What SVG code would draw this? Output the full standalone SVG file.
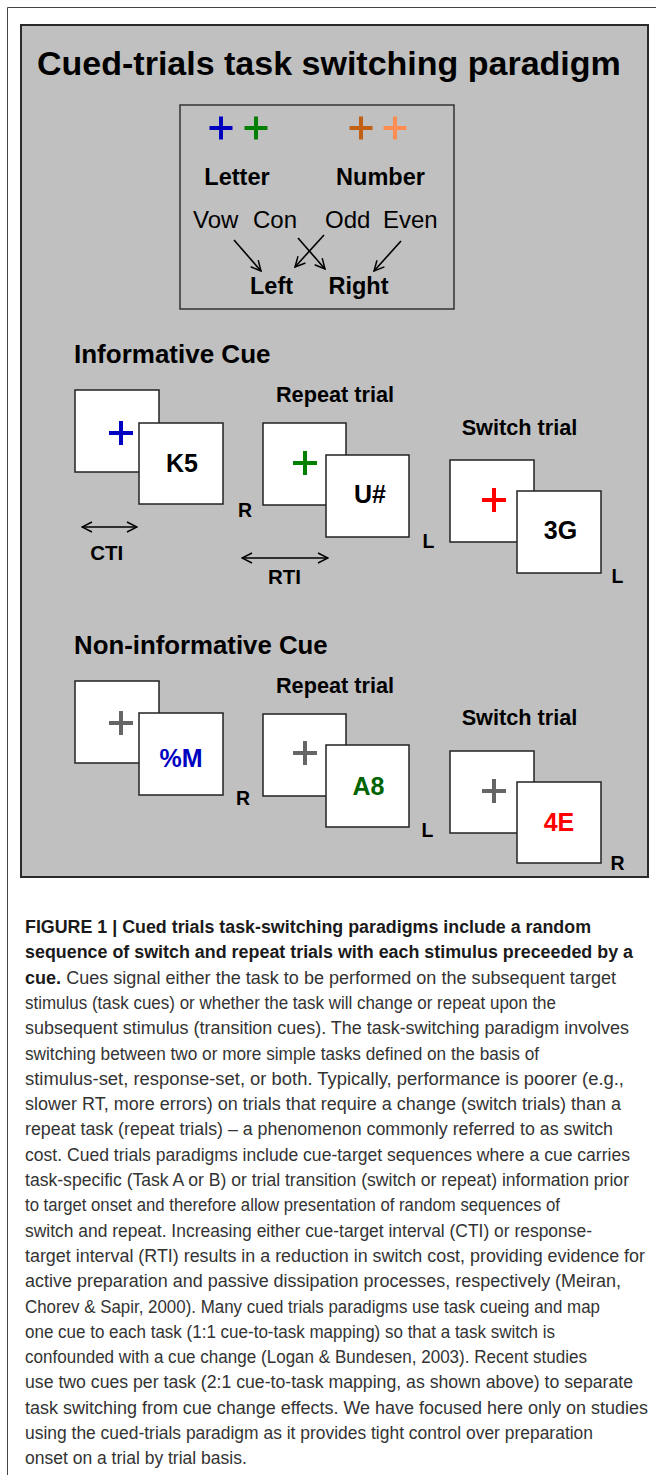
<svg xmlns="http://www.w3.org/2000/svg" width="656" height="1475" viewBox="0 0 656 1475">
<defs>
<style>
.b{font-family:"Liberation Sans",Arial,sans-serif;font-weight:bold;fill:#000}
.r{font-family:"Liberation Sans",Arial,sans-serif;fill:#000}
.box{fill:#fff;stroke:#222;stroke-width:1.5}
.cap{font-family:"Liberation Sans",Arial,sans-serif;font-size:17.5px;fill:#333}
.capb{font-weight:bold;fill:#1a1a1a}
.arr{stroke:#000;stroke-width:1.6;fill:none}
.pl{stroke-width:4;fill:none}
</style>
<marker id="v" viewBox="0 0 12 12" refX="11" refY="6" markerWidth="12" markerHeight="12" markerUnits="userSpaceOnUse" orient="auto-start-reverse">
<path d="M1,1 L11,6 L1,11" fill="none" stroke="#000" stroke-width="1.5"/>
</marker>
</defs>
<rect width="656" height="1475" fill="#fff"/>
<path d="M7.5,1475 V7.5 H656" fill="none" stroke="#444" stroke-width="1"/>
<g id="panel">
<rect x="21" y="25" width="627" height="852" fill="#c0c0c0" stroke="#2a2a2a" stroke-width="2"/>
<text class="b" x="37" y="75" font-size="34">Cued-trials task switching paradigm</text>
</g>
<g id="legend">
<rect x="180" y="105" width="274" height="204" fill="none" stroke="#333" stroke-width="1.5"/>
<path class="pl" stroke="#0000c0" d="M209.5,128 H232.5 M221,116.5 V139.5"/>
<path class="pl" stroke="#008000" d="M244.5,128 H267.5 M256,116.5 V139.5"/>
<path class="pl" stroke="#c06010" d="M349.5,128 H372.5 M361,116.5 V139.5"/>
<path class="pl" stroke="#ff8c50" d="M383.5,128 H406.5 M395,116.5 V139.5"/>
<text class="b" x="237" y="185" font-size="23.5" text-anchor="middle">Letter</text>
<text class="b" x="380.5" y="185" font-size="23.5" text-anchor="middle">Number</text>
<text class="r" x="193" y="228" font-size="24">Vow</text>
<text class="r" x="253" y="228" font-size="24">Con</text>
<text class="r" x="325" y="228" font-size="24">Odd</text>
<text class="r" x="383" y="228" font-size="24">Even</text>
<text class="b" x="271.5" y="294" font-size="23.5" text-anchor="middle">Left</text>
<text class="b" x="358.5" y="294" font-size="23.5" text-anchor="middle">Right</text>
</g>
<g id="connectors">
<line class="arr" x1="234" y1="240" x2="261" y2="271" marker-end="url(#v)"/>
<line class="arr" x1="298" y1="238" x2="325" y2="269" marker-end="url(#v)"/>
<line class="arr" x1="324" y1="235" x2="295" y2="267" marker-end="url(#v)"/>
<line class="arr" x1="401" y1="241" x2="374" y2="271" marker-end="url(#v)"/>
<line class="arr" x1="82" y1="527" x2="137" y2="527" marker-start="url(#v)" marker-end="url(#v)"/>
<line class="arr" x1="242" y1="558" x2="328" y2="558" marker-start="url(#v)" marker-end="url(#v)"/>
</g>
<g id="informative">
<text class="b" x="74" y="363" font-size="26">Informative Cue</text>
<text class="b" x="335" y="402" font-size="21.7" text-anchor="middle">Repeat trial</text>
<text class="b" x="519.5" y="435" font-size="21.7" text-anchor="middle">Switch trial</text>
<g id="inf-cue1"><rect class="box" x="75" y="390" width="84" height="82"/><path class="pl" stroke="#0000c0" d="M109,433 H133 M121,421 V445"/></g>
<g id="inf-target1"><rect class="box" x="139" y="423" width="84" height="81"/><text class="b" x="182" y="472" font-size="25" text-anchor="middle">K5</text></g>
<g id="inf-cue2"><rect class="box" x="263" y="423" width="83" height="82"/><path class="pl" stroke="#008000" d="M293,463 H317 M305,451 V475"/></g>
<g id="inf-target2"><rect class="box" x="326" y="455" width="83" height="82"/><text class="b" x="370" y="503" font-size="25" text-anchor="middle">U#</text></g>
<g id="inf-cue3"><rect class="box" x="450" y="460" width="84" height="82"/><path class="pl" stroke="#ff0000" d="M482,500 H506 M494,488 V512"/></g>
<g id="inf-target3"><rect class="box" x="517" y="491" width="84" height="82"/><text class="b" x="560.5" y="538.5" font-size="25" text-anchor="middle">3G</text></g>
<text class="b" x="238" y="517" font-size="19.5">R</text>
<text class="b" x="422.5" y="548" font-size="19.5">L</text>
<text class="b" x="611.5" y="583" font-size="19.5">L</text>
<text class="b" x="106.7" y="560" font-size="20.5" text-anchor="middle">CTI</text>
<text class="b" x="284.5" y="584" font-size="20.5" text-anchor="middle">RTI</text>
</g>
<g id="noninformative">
<text class="b" x="74" y="654" font-size="25.8">Non-informative Cue</text>
<text class="b" x="335" y="693" font-size="21.7" text-anchor="middle">Repeat trial</text>
<text class="b" x="519.5" y="725" font-size="21.7" text-anchor="middle">Switch trial</text>
<g id="non-cue1"><rect class="box" x="75" y="681" width="84" height="82"/><path class="pl" stroke="#666" d="M109,723 H133 M121,711 V735"/></g>
<g id="non-target1"><rect class="box" x="139" y="713" width="84" height="82"/><text class="b" x="181" y="767" font-size="25" text-anchor="middle" style="fill:#0000c0">%M</text></g>
<g id="non-cue2"><rect class="box" x="263" y="714" width="83" height="82"/><path class="pl" stroke="#666" d="M293,753 H317 M305,741 V765"/></g>
<g id="non-target2"><rect class="box" x="326" y="745" width="83" height="82"/><text class="b" x="368.5" y="794.5" font-size="25" text-anchor="middle" style="fill:#006400">A8</text></g>
<g id="non-cue3"><rect class="box" x="450" y="751" width="84" height="82"/><path class="pl" stroke="#666" d="M482,791 H506 M494,779 V803"/></g>
<g id="non-target3"><rect class="box" x="517" y="782" width="84" height="81"/><text class="b" x="559" y="831" font-size="25" text-anchor="middle" style="fill:#ff0000">4E</text></g>
<text class="b" x="236" y="805" font-size="19.5">R</text>
<text class="b" x="421.5" y="837" font-size="19.5">L</text>
<text class="b" x="610.5" y="869.5" font-size="19.5">R</text>
</g>
<g id="caption">
<text class="cap capb" x="25" y="933" textLength="566" lengthAdjust="spacingAndGlyphs">FIGURE 1 | Cued trials task-switching paradigms include a random</text>
<text class="cap capb" x="25" y="958.3" textLength="608" lengthAdjust="spacingAndGlyphs">sequence of switch and repeat trials with each stimulus preceeded by a</text>
<text class="cap" x="25" y="983.6" textLength="591" lengthAdjust="spacingAndGlyphs"><tspan class="capb">cue.</tspan> Cues signal either the task to be performed on the subsequent target</text>
<text class="cap" x="25" y="1008.9" textLength="531" lengthAdjust="spacingAndGlyphs">stimulus (task cues) or whether the task will change or repeat upon the</text>
<text class="cap" x="25" y="1034.2" textLength="604" lengthAdjust="spacingAndGlyphs">subsequent stimulus (transition cues). The task-switching paradigm involves</text>
<text class="cap" x="25" y="1059.5" textLength="514" lengthAdjust="spacingAndGlyphs">switching between two or more simple tasks defined on the basis of</text>
<text class="cap" x="25" y="1084.8" textLength="599" lengthAdjust="spacingAndGlyphs">stimulus-set, response-set, or both. Typically, performance is poorer (e.g.,</text>
<text class="cap" x="25" y="1110.1" textLength="596" lengthAdjust="spacingAndGlyphs">slower RT, more errors) on trials that require a change (switch trials) than a</text>
<text class="cap" x="25" y="1135.4" textLength="588" lengthAdjust="spacingAndGlyphs">repeat task (repeat trials) – a phenomenon commonly referred to as switch</text>
<text class="cap" x="25" y="1160.7" textLength="605" lengthAdjust="spacingAndGlyphs">cost. Cued trials paradigms include cue-target sequences where a cue carries</text>
<text class="cap" x="25" y="1186" textLength="604" lengthAdjust="spacingAndGlyphs">task-specific (Task A or B) or trial transition (switch or repeat) information prior</text>
<text class="cap" x="25" y="1211.3" textLength="535" lengthAdjust="spacingAndGlyphs">to target onset and therefore allow presentation of random sequences of</text>
<text class="cap" x="25" y="1236.6" textLength="567" lengthAdjust="spacingAndGlyphs">switch and repeat. Increasing either cue-target interval (CTI) or response-</text>
<text class="cap" x="25" y="1261.9" textLength="620" lengthAdjust="spacingAndGlyphs">target interval (RTI) results in a reduction in switch cost, providing evidence for</text>
<text class="cap" x="25" y="1287.2" textLength="596" lengthAdjust="spacingAndGlyphs">active preparation and passive dissipation processes, respectively (Meiran,</text>
<text class="cap" x="25" y="1312.5" textLength="575" lengthAdjust="spacingAndGlyphs">Chorev &amp; Sapir, 2000). Many cued trials paradigms use task cueing and map</text>
<text class="cap" x="25" y="1337.8" textLength="530" lengthAdjust="spacingAndGlyphs">one cue to each task (1:1 cue-to-task mapping) so that a task switch is</text>
<text class="cap" x="25" y="1363.1" textLength="562" lengthAdjust="spacingAndGlyphs">confounded with a cue change (Logan &amp; Bundesen, 2003). Recent studies</text>
<text class="cap" x="25" y="1388.4" textLength="608" lengthAdjust="spacingAndGlyphs">use two cues per task (2:1 cue-to-task mapping, as shown above) to separate</text>
<text class="cap" x="25" y="1413.7" textLength="623" lengthAdjust="spacingAndGlyphs">task switching from cue change effects. We have focused here only on studies</text>
<text class="cap" x="25" y="1439" textLength="568" lengthAdjust="spacingAndGlyphs">using the cued-trials paradigm as it provides tight control over preparation</text>
<text class="cap" x="25" y="1464.3">onset on a trial by trial basis.</text>
</g>
</svg>
